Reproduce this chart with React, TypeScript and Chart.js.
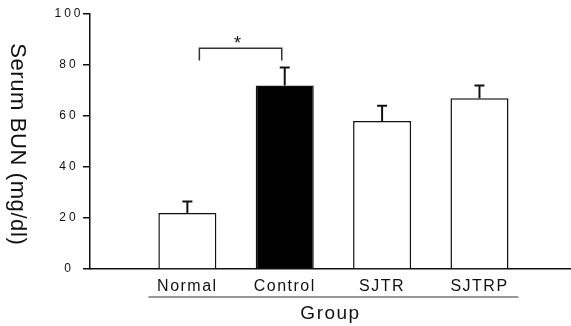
import { useEffect, useRef } from 'react';
import { Chart, registerables } from 'chart.js';

Chart.register(...registerables);

const categories = ['Normal', 'Control', 'SJTR', 'SJTRP'];
const meanValues = [22, 72, 58, 67];
const errorValues = [4.5, 7, 6, 5];
const barColors = ['#ffffff', '#000000', '#ffffff', '#ffffff'];
const yTickValues = [0, 20, 40, 60, 80, 100];
const yTitle = 'Serum BUN (mg/dl)';
const xTitle = 'Group';
const significanceMark = '*';
// bracket between Normal and Control
const bracketLevel = 86.6;
const bracketLegBottom = 81.8;

const INK = '#111111';

export default function App() {
  const canvasRef = useRef<HTMLCanvasElement | null>(null);

  useEffect(() => {
    const canvas = canvasRef.current;
    if (!canvas) return;

    const overlay = {
      id: 'overlay',
      beforeDraw(chart: any) {
        chart.ctx.letterSpacing = '1.5px';
      },
      afterDraw(chart: any) {
        const { ctx, scales } = chart;
        const xs = scales.x;
        const ys = scales.y;
        ctx.save();
        ctx.strokeStyle = INK;
        ctx.fillStyle = INK;

        // error bars (upper only)
        ctx.lineWidth = 2;
        meanValues.forEach((m, i) => {
          const x = xs.getPixelForValue(i + 1);
          const yb = ys.getPixelForValue(m);
          const yt = ys.getPixelForValue(m + errorValues[i]);
          ctx.beginPath();
          ctx.moveTo(x, yb);
          ctx.lineTo(x, yt);
          ctx.moveTo(x - 5, yt);
          ctx.lineTo(x + 5, yt);
          ctx.stroke();
        });

        // y tick labels
        const ls = 3;
        ctx.letterSpacing = ls + 'px';
        ctx.font = '12px Arial, "Liberation Sans", sans-serif';
        ctx.textAlign = 'center';
        ctx.textBaseline = 'middle';
        yTickValues.forEach((v) => {
          ctx.fillText(String(v), 67.5 + ls / 2, ys.getPixelForValue(v));
        });

        // y title, reading top to bottom
        const tls = 0.6;
        ctx.letterSpacing = tls + 'px';
        ctx.save();
        ctx.font = '22px Arial, "Liberation Sans", sans-serif';
        ctx.translate(11, 144 + tls / 2);
        ctx.rotate(Math.PI / 2);
        ctx.textAlign = 'center';
        ctx.textBaseline = 'alphabetic';
        ctx.fillText(yTitle, 0, 0);
        ctx.restore();

        // significance bracket
        const bx1 = xs.getPixelForValue(1) + 12;
        const bx2 = xs.getPixelForValue(2) - 3;
        const by = ys.getPixelForValue(bracketLevel);
        const byl = ys.getPixelForValue(bracketLegBottom);
        ctx.letterSpacing = '0px';
        ctx.lineWidth = 1.5;
        ctx.strokeStyle = '#333';
        ctx.beginPath();
        ctx.moveTo(bx1, byl);
        ctx.lineTo(bx1, by);
        ctx.lineTo(bx2, by);
        ctx.lineTo(bx2, byl);
        ctx.stroke();
        ctx.font = '18px Arial, "Liberation Sans", sans-serif';
        ctx.textAlign = 'center';
        ctx.textBaseline = 'middle';
        ctx.fillText(significanceMark, (bx1 + bx2) / 2 - 3, by - 4);

        // line under the group labels
        ctx.lineWidth = 1.2;
        ctx.strokeStyle = '#333';
        ctx.beginPath();
        ctx.moveTo(xs.getPixelForValue(0.6), 297);
        ctx.lineTo(xs.getPixelForValue(4.4), 297);
        ctx.stroke();

        ctx.restore();
      },
    };

    const chart = new Chart(canvas, {
      type: 'bar',
      data: {
        datasets: [
          {
            data: categories.map((_, i) => ({ x: i + 1, y: meanValues[i] })),
            backgroundColor: barColors,
            borderColor: INK,
            borderWidth: 1.5,
            categoryPercentage: 1,
            barPercentage: 0.596,
          },
        ],
      },
      options: {
        animation: false,
        responsive: false,
        maintainAspectRatio: false,
        layout: { padding: { top: 14, left: 0, right: 0, bottom: 0 } },
        plugins: { legend: { display: false }, tooltip: { enabled: false } },
        scales: {
          x: {
            type: 'linear',
            offset: false,
            min: 0,
            max: 4.94,
            afterBuildTicks: (s: any) => {
              s.ticks = categories.map((_, i) => ({ value: i + 1 }));
            },
            afterFit: (s: any) => {
              s.height = 57;
            },
            ticks: {
              autoSkip: false,
              maxRotation: 0,
              padding: 0,
              color: INK,
              font: { family: 'Arial, "Liberation Sans", sans-serif', size: 16 },
              callback: (v: any) => categories[Number(v) - 1] ?? '',
            },
            grid: { display: false, offset: false },
            border: { display: true, color: INK, width: 1.5 },
            title: {
              display: true,
              text: xTitle,
              color: INK,
              font: { family: 'Arial, "Liberation Sans", sans-serif', size: 19 },
              padding: { top: 0, bottom: 1 },
            },
          },
          y: {
            min: 0,
            max: 100,
            afterBuildTicks: (s: any) => {
              s.ticks = yTickValues.map((v) => ({ value: v }));
            },
            afterFit: (s: any) => {
              s.width = 90;
            },
            ticks: { display: false },
            grid: {
              drawOnChartArea: false,
              drawTicks: true,
              tickLength: 7,
              color: INK,
              lineWidth: 1.5,
            },
            border: { display: true, color: INK, width: 1.5 },
          },
        },
      },
      plugins: [overlay],
    });

    return () => chart.destroy();
  }, []);

  return (
    <div style={{ position: 'fixed', left: 0, top: 0, width: 571, height: 326, background: '#fff' }}>
      <canvas ref={canvasRef} width={571} height={326} style={{ width: 571, height: 326, display: 'block' }} />
    </div>
  );
}
